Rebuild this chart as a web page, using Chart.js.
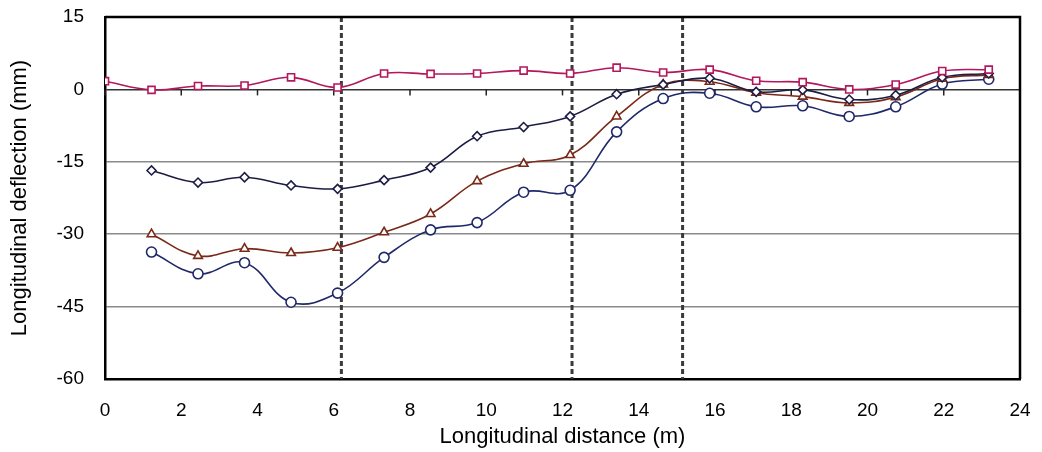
<!DOCTYPE html>
<html lang="en">
<head>
    <title>Longitudinal deflection</title>
    <meta charset="UTF-8">
    <style>
        body {
            margin: 0;
            background: #fff;
            font-family: "Liberation Sans", Arial, sans-serif;
        }
        #plot {
            width: 1042px;
            height: 452px;
        }
    </style>
</head>
<body>
<div id="plot">
    <canvas id="deflection-plot"></canvas>
</div>
<script src="https://cdn.jsdelivr.net/npm/chart.js"></script>
<script>
    const distance = [0, 1.22, 2.44, 3.66, 4.88, 6.1, 7.32, 8.54, 9.76, 10.98, 12.2, 13.42, 14.64, 15.86, 17.08, 18.3, 19.52, 20.74, 21.96, 23.18];
    const squares = [1.7, -0.1, 0.7, 0.8, 2.5, 0.4, 3.3, 3.2, 3.3, 3.9, 3.3, 4.5, 3.5, 4.1, 1.8, 1.5, 0, 1.0, 3.8, 4.1];
    const diamonds = [null, -16.8, -19.3, -18.2, -19.9, -20.6, -18.8, -16.2, -9.7, -7.8, -5.6, -1.0, 1.0, 2.3, -0.5, -0.1, -2.1, -1.2, 2.5, 3.3];
    const triangles = [null, -30.0, -34.5, -33.0, -33.9, -32.8, -29.6, -25.8, -19.0, -15.4, -13.6, -5.6, 1.0, 1.6, -0.7, -1.5, -2.8, -1.6, 2.2, 3.0];
    const circles = [null, -33.7, -38.2, -35.9, -44.1, -42.2, -34.8, -29.1, -27.6, -21.3, -20.9, -8.8, -1.9, -0.8, -3.6, -3.4, -5.6, -3.6, 1.1, 2.1];
    const sections = [6.2, 12.25, 15.15];
    const xTicks = [0, 2, 4, 6, 8, 10, 12, 14, 16, 18, 20, 22, 24];

    function points(values) {
        return distance.map((d, i) => ({ x: d, y: values[i] })).filter(p => p.y !== null);
    }

    function series(values, color, style) {
        return {
            data: points(values),
            borderColor: color,
            borderWidth: 1.6,
            pointStyle: style,
            pointRadius: style === 'rectRot' ? 4.5 : 5,
            pointBackgroundColor: '#fff',
            pointBorderColor: color,
            pointBorderWidth: 1.6,
            tension: 0.4
        };
    }

    // dashed section lines, small ticks on the zero line and the frame
    const extras = {
        id: 'extras',
        beforeDatasetsDraw(chart) {
            const { ctx, chartArea, scales } = chart;
            ctx.save();
            ctx.strokeStyle = '#3a3a3a';
            ctx.lineWidth = 3;
            ctx.setLineDash([5, 3]);
            sections.forEach(s => {
                const x = scales.x.getPixelForValue(s);
                ctx.beginPath();
                ctx.moveTo(x, chartArea.top);
                ctx.lineTo(x, chartArea.bottom);
                ctx.stroke();
            });
            ctx.setLineDash([]);
            const y0 = scales.y.getPixelForValue(0);
            ctx.strokeStyle = '#222';
            ctx.lineWidth = 1.5;
            xTicks.forEach(t => {
                const x = scales.x.getPixelForValue(t);
                ctx.beginPath();
                ctx.moveTo(x, y0);
                ctx.lineTo(x, y0 + 6);
                ctx.stroke();
            });
            ctx.restore();
        },
        afterDraw(chart) {
            const { ctx, chartArea } = chart;
            ctx.save();
            ctx.strokeStyle = '#000';
            ctx.lineWidth = 2.5;
            ctx.beginPath();
            ctx.moveTo(chartArea.left, chartArea.top);
            ctx.lineTo(chartArea.right, chartArea.top);
            ctx.lineTo(chartArea.right, chartArea.bottom);
            ctx.stroke();
            ctx.restore();
        }
    };

    const ctx = document.getElementById('deflection-plot').getContext('2d');
    const deflection_plot = new Chart(ctx, {
        type: 'line',
        data: {
            datasets: [
                series(squares, '#b3175c', 'rect'),
                series(diamonds, '#1c1c44', 'rectRot'),
                series(triangles, '#7a2818', 'triangle'),
                series(circles, '#1f2868', 'circle')
            ]
        },
        options: {
            responsive: true,
            maintainAspectRatio: false,
            animation: false,
            layout: { padding: { left: 0, right: 22, top: 17, bottom: 0 } },
            plugins: {
                legend: { display: false },
                tooltip: { enabled: false }
            },
            scales: {
                x: {
                    type: 'linear',
                    min: 0,
                    max: 24,
                    afterFit: s => { s.height = 73; s.paddingLeft = 0; s.paddingRight = 0; },
                    afterBuildTicks: s => { s.ticks = xTicks.map(v => ({ value: v })); },
                    grid: { display: false, drawTicks: false },
                    border: { color: '#000', width: 2.5 },
                    ticks: {
                        padding: 20,
                        color: '#000',
                        font: { family: '"Liberation Sans", Arial', size: 19 }
                    },
                    title: {
                        display: true,
                        text: 'Longitudinal distance (m)',
                        color: '#000',
                        padding: { top: 0, bottom: 2 },
                        font: { family: '"Liberation Sans", Arial', size: 22 }
                    }
                },
                y: {
                    min: -60,
                    max: 15,
                    afterFit: s => { s.width = 105; s.paddingTop = 0; s.paddingBottom = 0; },
                    grid: {
                        drawTicks: false,
                        color: c => c.tick.value === 0 ? '#333' : '#8a8a8a',
                        lineWidth: c => c.tick.value === 15 ? 0 : 1.5
                    },
                    border: { color: '#000', width: 2.5 },
                    ticks: {
                        stepSize: 15,
                        padding: 21,
                        color: '#000',
                        font: { family: '"Liberation Sans", Arial', size: 19 }
                    },
                    title: {
                        display: true,
                        text: 'Longitudinal deflection (mm)',
                        color: '#000',
                        padding: { top: 7, bottom: 0 },
                        font: { family: '"Liberation Sans", Arial', size: 22 }
                    }
                }
            }
        },
        plugins: [extras]
    });
</script>
</body>
</html>
